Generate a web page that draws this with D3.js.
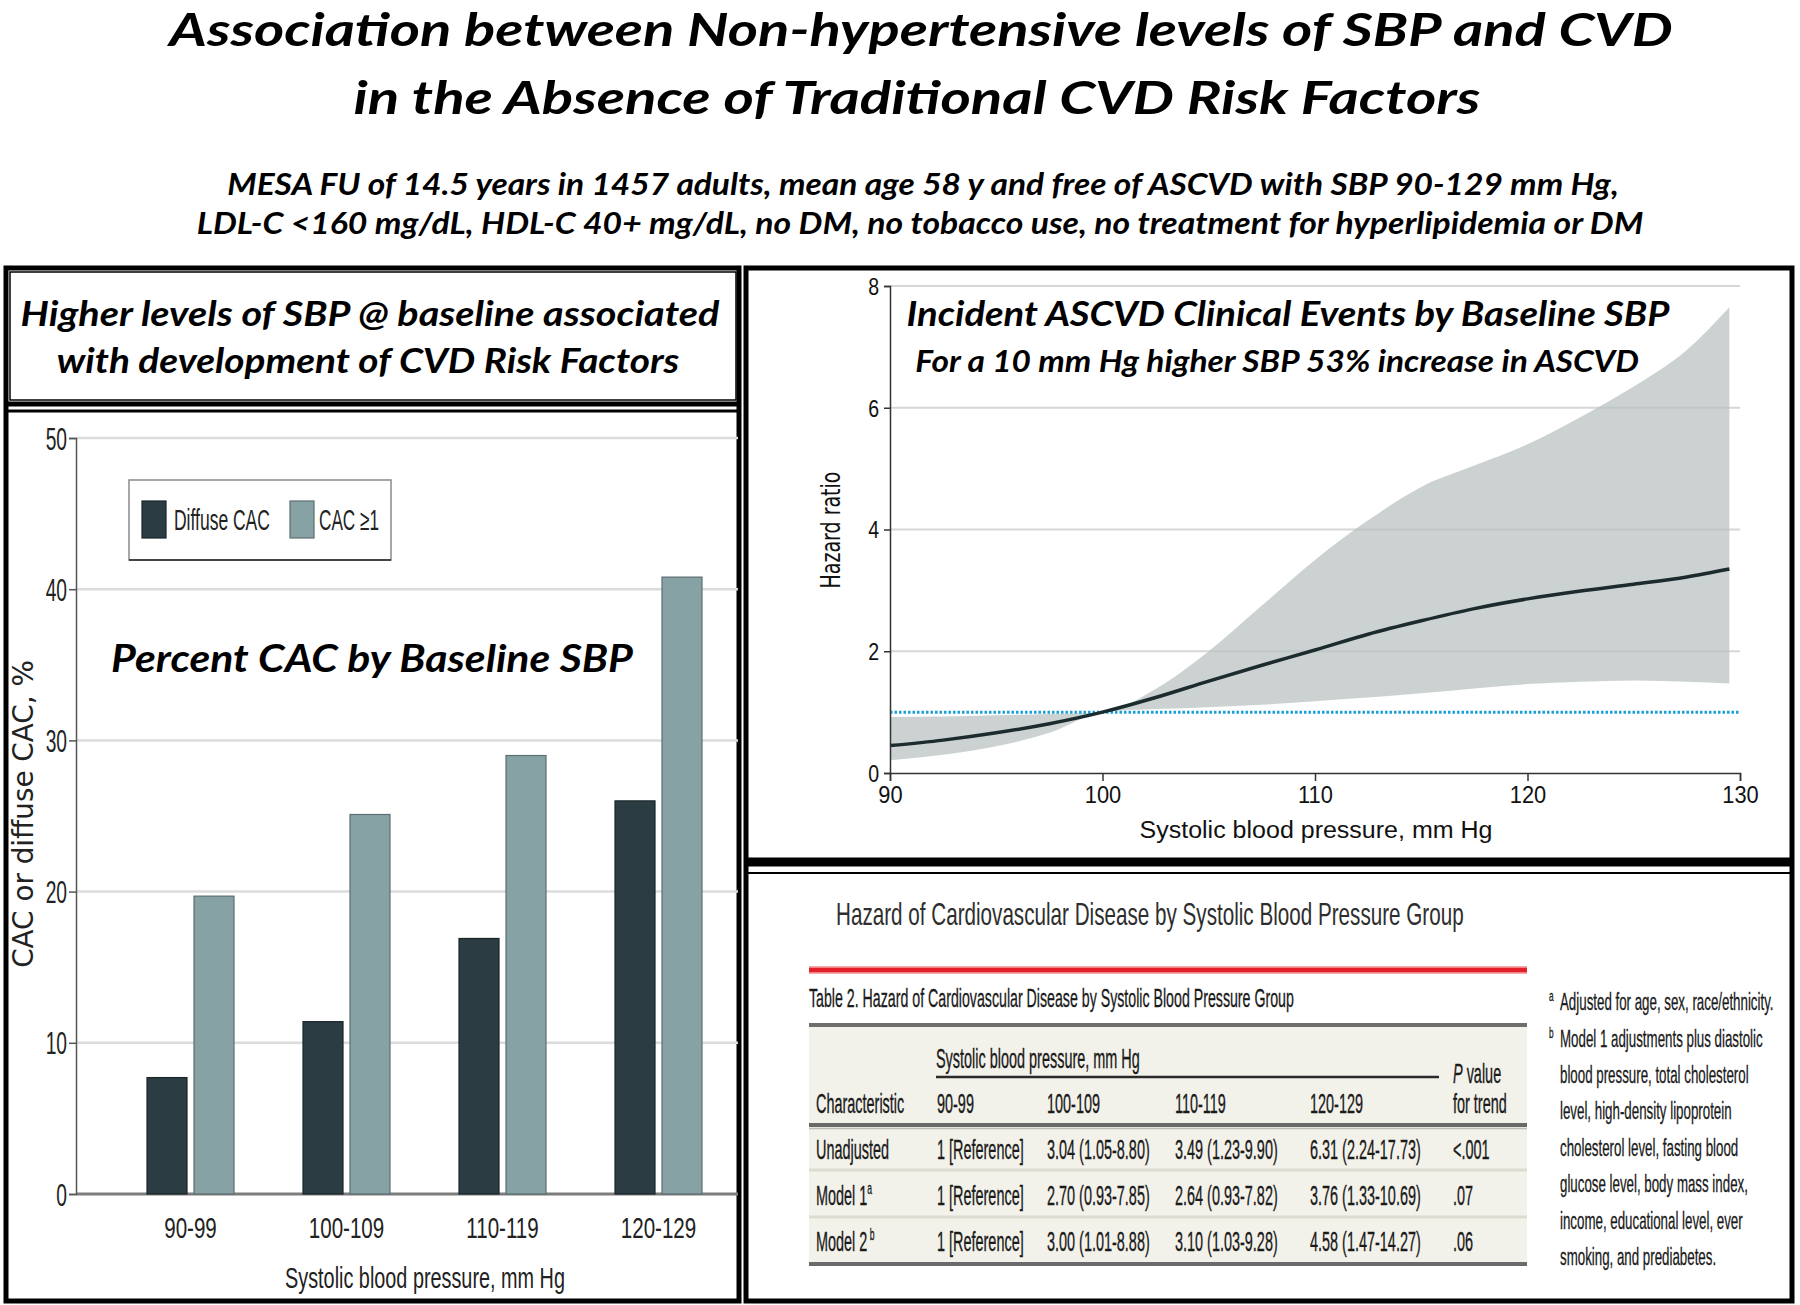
<!DOCTYPE html>
<html><head><meta charset="utf-8">
<script src="https://cdn.jsdelivr.net/npm/d3@7"></script>
<style>body{margin:0;background:#fff}svg{display:block}</style>
</head><body>
<svg id="c" width="1800" height="1305"></svg>
<script>
// ---------------- DATA ----------------
const titleLines = ["Association between Non-hypertensive levels of SBP and CVD",
                    "in the Absence of Traditional CVD Risk Factors"];
const subtitleLines = ["MESA FU of 14.5 years in 1457 adults, mean age 58 y and free of ASCVD with SBP 90-129 mm Hg,",
                       "LDL-C <160 mg/dL, HDL-C 40+ mg/dL, no DM, no tobacco use, no treatment for hyperlipidemia or DM"];
const leftHeaderLines = ["Higher levels of SBP @ baseline associated", "with development of CVD Risk Factors"];
const barChartTitle = "Percent CAC by Baseline SBP";
const sbpGroups = ["90-99", "100-109", "110-119", "120-129"];
const barSeries = ["Diffuse CAC", "CAC \u22651"];
const diffuseCAC = [7.7, 11.4, 16.9, 26.0];
const anyCAC = [19.7, 25.1, 29.0, 40.8];
const barTicks = [0, 10, 20, 30, 40, 50];
const barYLabel = "CAC or diffuse CAC, %";
const xLabel = "Systolic blood pressure, mm Hg";

const hrTitle = "Incident ASCVD Clinical Events by Baseline SBP";
const hrSubtitle = "For a 10 mm Hg higher SBP 53% increase in ASCVD";
const hrSBP   = [90, 92.5, 95, 97.5, 100, 102.5, 105, 107.5, 110, 112.5, 115, 117.5, 120, 122.5, 125, 127.5, 129.5];
const hrEst   = [0.45, 0.54, 0.66, 0.81, 1.00, 1.24, 1.51, 1.77, 2.02, 2.28, 2.50, 2.70, 2.86, 2.99, 3.10, 3.22, 3.35];
const hrLower = [0.21, 0.30, 0.44, 0.66, 1.00, 1.05, 1.08, 1.12, 1.18, 1.24, 1.31, 1.39, 1.46, 1.50, 1.52, 1.50, 1.47];
const hrUpper = [0.92, 0.93, 0.95, 0.97, 1.00, 1.38, 2.00, 2.75, 3.50, 4.15, 4.70, 5.05, 5.40, 5.85, 6.35, 6.95, 7.65];
const hrRef = 1;
const hrXTicks = [90, 100, 110, 120, 130];
const hrYTicks = [0, 2, 4, 6, 8];
const hrYLabel = "Hazard ratio";

const tableTitle = "Hazard of Cardiovascular Disease by Systolic Blood Pressure Group";
const tableCaption = "Table 2. Hazard of Cardiovascular Disease by Systolic Blood Pressure Group";
const tableSpanner = "Systolic blood pressure, mm Hg";
const tableHeader = ["Characteristic", "90-99", "100-109", "110-119", "120-129"];
const tablePHeader = ["P value", "for trend"];
const rowLabels = ["Unadjusted", "Model 1", "Model 2"];
const rowSups = ["", "a", "\u00a0b"];
const rowValues = [
  ["1 [Reference]", "3.04 (1.05-8.80)", "3.49 (1.23-9.90)", "6.31 (2.24-17.73)", "<.001"],
  ["1 [Reference]", "2.70 (0.93-7.85)", "2.64 (0.93-7.82)", "3.76 (1.33-10.69)", ".07"],
  ["1 [Reference]", "3.00 (1.01-8.88)", "3.10 (1.03-9.28)", "4.58 (1.47-14.27)", ".06"]
];
const footnoteSups = ["a", "b", "", "", "", "", "", ""];
const footnotes = ["Adjusted for age, sex, race/ethnicity.",
  "Model 1 adjustments plus diastolic",
  "blood pressure, total cholesterol",
  "level, high-density lipoprotein",
  "cholesterol level, fasting blood",
  "glucose level, body mass index,",
  "income, educational level, ever",
  "smoking, and prediabetes."];

// ---------------- HELPERS ----------------
const svg = d3.select("#c");
const SANS = "'Liberation Sans', Arial, sans-serif";
const TITLE = "Lato, 'Open Sans', sans-serif";
const WIDE = "'DejaVu Sans', Verdana, sans-serif";

// horizontal condensing through a scale transform (keeps the glyph height)
function squeeze(sel, f) {
  sel.each(function () {
    const s = d3.select(this);
    const x = +s.attr("x") || 0;
    const prev = s.attr("transform") || "";
    s.attr("x", x / f).attr("transform", (prev + ` scale(${f},1)`).trim());
  });
}
function T(parent, o) {
  const t = parent.append("text")
    .attr("x", o.x).attr("y", o.y)
    .attr("font-family", o.family || SANS)
    .attr("font-size", o.size)
    .attr("font-weight", o.weight || 400)
    .attr("font-style", o.style || "normal")
    .attr("text-anchor", o.anchor || "start")
    .attr("fill", o.fill || "#000");
  if (o.stroke) t.attr("stroke", o.fill || "#000").attr("stroke-width", o.stroke);
  if (o.rotate) t.attr("transform", `rotate(${o.rotate},${o.x},${o.y})`);
  if (o.text !== undefined) t.text(o.text);
  if (o.width) squeeze(t, o.width / t.node().getComputedTextLength());
  else if (o.factor) squeeze(t, o.factor);
  return t;
}

svg.append("rect").attr("width", 1800).attr("height", 1305).attr("fill", "#fff");

// ---------------- TITLES ----------------
const titleSpec = [{ cx: 921, y: 46, w: 1504 }, { cx: 917, y: 114, w: 1127 }];
titleLines.forEach((s, i) => T(svg, { x: titleSpec[i].cx, y: titleSpec[i].y, text: s, size: 46, family: TITLE,
  weight: 700, style: "italic", anchor: "middle", width: titleSpec[i].w }));
const subSpec = [{ cx: 923, y: 195, w: 1392 }, { cx: 920, y: 234, w: 1447 }];
subtitleLines.forEach((s, i) => T(svg, { x: subSpec[i].cx, y: subSpec[i].y, text: s, size: 31, family: TITLE,
  weight: 700, style: "italic", anchor: "middle", width: subSpec[i].w }));

// ---------------- FRAMES ----------------
const frames = svg.append("g").attr("fill", "none").attr("stroke", "#000");
frames.append("rect").attr("x", 6).attr("y", 268).attr("width", 733).attr("height", 1033).attr("stroke-width", 5);
frames.append("rect").attr("x", 10).attr("y", 272).attr("width", 726).attr("height", 128).attr("stroke-width", 1.5);
frames.append("line").attr("x1", 6).attr("x2", 739).attr("y1", 404).attr("y2", 404).attr("stroke-width", 5);
frames.append("line").attr("x1", 6).attr("x2", 739).attr("y1", 411).attr("y2", 411).attr("stroke-width", 3);
frames.append("rect").attr("x", 746).attr("y", 268).attr("width", 1046).attr("height", 1033).attr("stroke-width", 5);
frames.append("line").attr("x1", 746).attr("x2", 1792).attr("y1", 862).attr("y2", 862).attr("stroke-width", 9);
frames.append("line").attr("x1", 746).attr("x2", 1792).attr("y1", 873).attr("y2", 873).attr("stroke-width", 2);

// ---------------- LEFT HEADER ----------------
const lhSpec = [{ cx: 370, y: 326, w: 699 }, { cx: 368, y: 373, w: 623 }];
leftHeaderLines.forEach((s, i) => T(svg, { x: lhSpec[i].cx, y: lhSpec[i].y, text: s, size: 35, family: TITLE,
  weight: 700, style: "italic", anchor: "middle", width: lhSpec[i].w }));

// ---------------- BAR CHART ----------------
const bar = svg.append("g");
const yBar = d3.scaleLinear().domain([0, 50]).range([1194, 438]);
const xBar = d3.scaleBand().domain(sbpGroups).range([112.5, 736.5]).padding(0);
const xSub = d3.scaleBand().domain([0, 1]).range([34.5, 121.5]).paddingInner(7 / 47).paddingOuter(0);
const barColors = ["#2b3d42", "#87a2a5"];
const barStroke = ["#18262a", "#5b6e71"];

bar.selectAll("line.grid").data(barTicks).join("line")
  .attr("x1", 76).attr("x2", 738)
  .attr("y1", d => yBar(d)).attr("y2", d => yBar(d))
  .attr("stroke", d => d === 0 ? "#7d7d7d" : "#dcdcdc").attr("stroke-width", d => d === 0 ? 3 : 2.5);

const ya = bar.append("g").attr("transform", "translate(76,0)")
  .call(d3.axisLeft(yBar).tickValues(barTicks).tickSize(7).tickPadding(2));
ya.select(".domain").attr("stroke", "#555").attr("stroke-width", 1.5);
ya.selectAll(".tick line").attr("stroke", "#555").attr("stroke-width", 1.5);
ya.selectAll(".tick text").attr("font-family", SANS).attr("font-size", 31).attr("fill", "#222").attr("dy", "0.36em");
squeeze(ya.selectAll(".tick text"), 0.62);

const seriesVals = [diffuseCAC, anyCAC];
seriesVals.forEach((vals, s) => {
  bar.selectAll(null).data(vals).join("rect")
    .attr("x", (d, i) => xBar(sbpGroups[i]) + xSub(s))
    .attr("width", xSub.bandwidth())
    .attr("y", d => yBar(d))
    .attr("height", d => yBar(0) - yBar(d))
    .attr("fill", barColors[s]).attr("stroke", barStroke[s]).attr("stroke-width", 1.2);
});

const xa = bar.append("g").attr("transform", "translate(0,1194)")
  .call(d3.axisBottom(xBar).tickSize(0).tickPadding(23));
xa.select(".domain").remove();
xa.selectAll(".tick text").attr("font-family", SANS).attr("font-size", 29).attr("fill", "#222");
squeeze(xa.selectAll(".tick text"), 0.71);

T(bar, { x: 425, y: 1288, text: xLabel, size: 30, anchor: "middle", fill: "#222", width: 280 });
T(bar, { x: 33, y: 814, text: barYLabel, size: 29, family: WIDE, anchor: "middle", fill: "#222", rotate: -90, width: 308 });

// legend
const lg = bar.append("g");
lg.append("rect").attr("x", 129).attr("y", 480).attr("width", 262).attr("height", 80)
  .attr("fill", "#fff").attr("stroke", "#8a8a8a").attr("stroke-width", 1.5);
lg.append("line").attr("x1", 129).attr("x2", 391).attr("y1", 560).attr("y2", 560).attr("stroke", "#444").attr("stroke-width", 2);
const legX = [142, 290], legTX = [174, 319], legW = [96, 60];
barSeries.forEach((s, i) => {
  lg.append("rect").attr("x", legX[i]).attr("y", 501).attr("width", 24).attr("height", 37)
    .attr("fill", barColors[i]).attr("stroke", barStroke[i]).attr("stroke-width", 1.2);
  T(lg, { x: legTX[i], y: 530, text: s, size: 29, fill: "#222", width: legW[i] });
});

T(bar, { x: 372, y: 672, text: barChartTitle, size: 38, family: TITLE, weight: 700, style: "italic",
  anchor: "middle", width: 522 });

// ---------------- HAZARD CHART ----------------
const hz = svg.append("g");
const xH = d3.scaleLinear().domain([90, 130]).range([890, 1740]);
const yH = d3.scaleLinear().domain([0, 8]).range([773, 286]);
const hrData = hrSBP.map((x, i) => ({ x, est: hrEst[i], lo: hrLower[i], hi: hrUpper[i] }));

hz.selectAll("line.grid").data(hrYTicks.filter(d => d > 0)).join("line")
  .attr("x1", xH(90)).attr("x2", xH(130))
  .attr("y1", d => yH(d)).attr("y2", d => yH(d))
  .attr("stroke", "#d6d6d6").attr("stroke-width", 2);

hz.append("path").datum(hrData)
  .attr("d", d3.area().x(d => xH(d.x)).y0(d => yH(d.lo)).y1(d => yH(d.hi)).curve(d3.curveMonotoneX))
  .attr("fill", "#b9c0c0").attr("fill-opacity", 0.72);

hz.append("line").attr("x1", xH(90)).attr("x2", xH(130)).attr("y1", yH(hrRef)).attr("y2", yH(hrRef))
  .attr("stroke", "#1a9fd6").attr("stroke-width", 3).attr("stroke-dasharray", "2.5,2");

hz.append("path").datum(hrData)
  .attr("d", d3.line().x(d => xH(d.x)).y(d => yH(d.est)).curve(d3.curveMonotoneX))
  .attr("fill", "none").attr("stroke", "#1c2b2d").attr("stroke-width", 3.5);

const hxa = hz.append("g").attr("transform", "translate(0,773)")
  .call(d3.axisBottom(xH).tickValues(hrXTicks).tickSize(8).tickPadding(6));
hxa.select(".domain").attr("stroke", "#333").attr("stroke-width", 1.5);
hxa.selectAll(".tick line").attr("stroke", "#333").attr("stroke-width", 1.5);
hxa.selectAll(".tick text").attr("font-family", SANS).attr("font-size", 23).attr("fill", "#111");
const hya = hz.append("g").attr("transform", "translate(890,0)")
  .call(d3.axisLeft(yH).tickValues(hrYTicks).tickSize(6).tickPadding(5));
hya.select(".domain").attr("stroke", "#333").attr("stroke-width", 1.5);
hya.selectAll(".tick line").attr("stroke", "#333").attr("stroke-width", 1.5);
hya.selectAll(".tick text").attr("font-family", SANS).attr("font-size", 23).attr("fill", "#111").attr("dy", "0.36em");
squeeze(hya.selectAll(".tick text"), 0.85);
squeeze(hxa.selectAll(".tick text"), 0.95);

T(hz, { x: 1316, y: 838, text: xLabel, size: 24, anchor: "middle", fill: "#111", width: 353 });
T(hz, { x: 840, y: 530, text: hrYLabel, size: 26, family: WIDE, anchor: "middle", fill: "#111", rotate: -90, width: 117 });
T(hz, { x: 1288, y: 326, text: hrTitle, size: 35, family: TITLE, weight: 700, style: "italic", anchor: "middle", width: 763 });
T(hz, { x: 1277, y: 372, text: hrSubtitle, size: 30, family: TITLE, weight: 700, style: "italic", anchor: "middle", width: 724 });

// ---------------- TABLE ----------------
const tb = svg.append("g");
const TS = 27, TF = 0.535, INK = "#1a1a1a", SW = 0.35;
T(tb, { x: 836, y: 925, text: tableTitle, size: 31, fill: "#2e2e2e", width: 628 });
tb.append("line").attr("x1", 809).attr("x2", 1527).attr("y1", 970).attr("y2", 970).attr("stroke", "#f3a7aa").attr("stroke-width", 8);
tb.append("line").attr("x1", 809).attr("x2", 1527).attr("y1", 970).attr("y2", 970).attr("stroke", "#e3202a").attr("stroke-width", 4.5);
T(tb, { x: 809, y: 1007, text: tableCaption, size: 26, fill: INK, width: 485, stroke: SW });
tb.append("rect").attr("x", 809).attr("y", 1027).attr("width", 718).attr("height", 237).attr("fill", "#f3f2ea");
tb.append("line").attr("x1", 809).attr("x2", 1527).attr("y1", 1025).attr("y2", 1025).attr("stroke", "#6e6e6e").attr("stroke-width", 4);
T(tb, { x: 936, y: 1068, text: tableSpanner, size: TS, fill: INK, factor: TF, stroke: SW });
tb.append("line").attr("x1", 936).attr("x2", 1439).attr("y1", 1077).attr("y2", 1077).attr("stroke", "#2a2a2a").attr("stroke-width", 2.5);

const colX = [816, 937, 1047, 1175, 1310, 1453];
tableHeader.forEach((h, i) => T(tb, { x: colX[i], y: 1113, text: h, size: TS, fill: INK, factor: TF, stroke: SW }));
const pv = tb.append("text").attr("x", colX[5]).attr("y", 1083).attr("font-family", SANS).attr("font-size", TS)
  .attr("fill", INK).attr("stroke", INK).attr("stroke-width", SW);
pv.append("tspan").attr("font-style", "italic").text(tablePHeader[0].slice(0, 1));
pv.append("tspan").text(tablePHeader[0].slice(1));
squeeze(pv, TF);
T(tb, { x: colX[5], y: 1113, text: tablePHeader[1], size: TS, fill: INK, factor: TF, stroke: SW });

tb.append("line").attr("x1", 809).attr("x2", 1527).attr("y1", 1125).attr("y2", 1125).attr("stroke", "#6a6a6a").attr("stroke-width", 4);
tb.append("line").attr("x1", 809).attr("x2", 1527).attr("y1", 1128.5).attr("y2", 1128.5).attr("stroke", "#bdbdb5").attr("stroke-width", 1.5);
[1170, 1217].forEach(y => tb.append("line").attr("x1", 809).attr("x2", 1527).attr("y1", y).attr("y2", y)
  .attr("stroke", "#dddcd2").attr("stroke-width", 3));
tb.append("line").attr("x1", 809).attr("x2", 1527).attr("y1", 1264).attr("y2", 1264).attr("stroke", "#6a6a6a").attr("stroke-width", 4);

const rowY = [1159, 1205, 1251];
rowLabels.forEach((lab, r) => {
  const t = tb.append("text").attr("x", colX[0]).attr("y", rowY[r]).attr("font-family", SANS)
    .attr("font-size", TS).attr("fill", INK).attr("stroke", INK).attr("stroke-width", SW);
  t.append("tspan").text(lab);
  if (rowSups[r]) t.append("tspan").attr("font-size", 16).attr("dy", -11).text(rowSups[r]);
  squeeze(t, TF);
  rowValues[r].forEach((v, c) => T(tb, { x: colX[c + 1], y: rowY[r], text: v, size: TS, fill: INK, factor: TF, stroke: SW }));
});

const fnY = [1010, 1047, 1083, 1119, 1156, 1192, 1229, 1265];
const FF = 0.555, supX = 1549, fnX = 1560;
footnotes.forEach((f, i) => {
  const t = tb.append("text").attr("y", fnY[i]).attr("font-family", SANS).attr("font-size", 24)
    .attr("fill", INK).attr("stroke", INK).attr("stroke-width", 0.3)
    .attr("transform", `scale(${FF},1)`);
  if (footnoteSups[i]) {
    t.append("tspan").attr("x", supX / FF).attr("font-size", 15).attr("dy", -9).text(footnoteSups[i]);
    t.append("tspan").attr("x", fnX / FF).attr("dy", 9).text(f);
  } else {
    t.append("tspan").attr("x", fnX / FF).text(f);
  }
});
</script>
</body></html>
